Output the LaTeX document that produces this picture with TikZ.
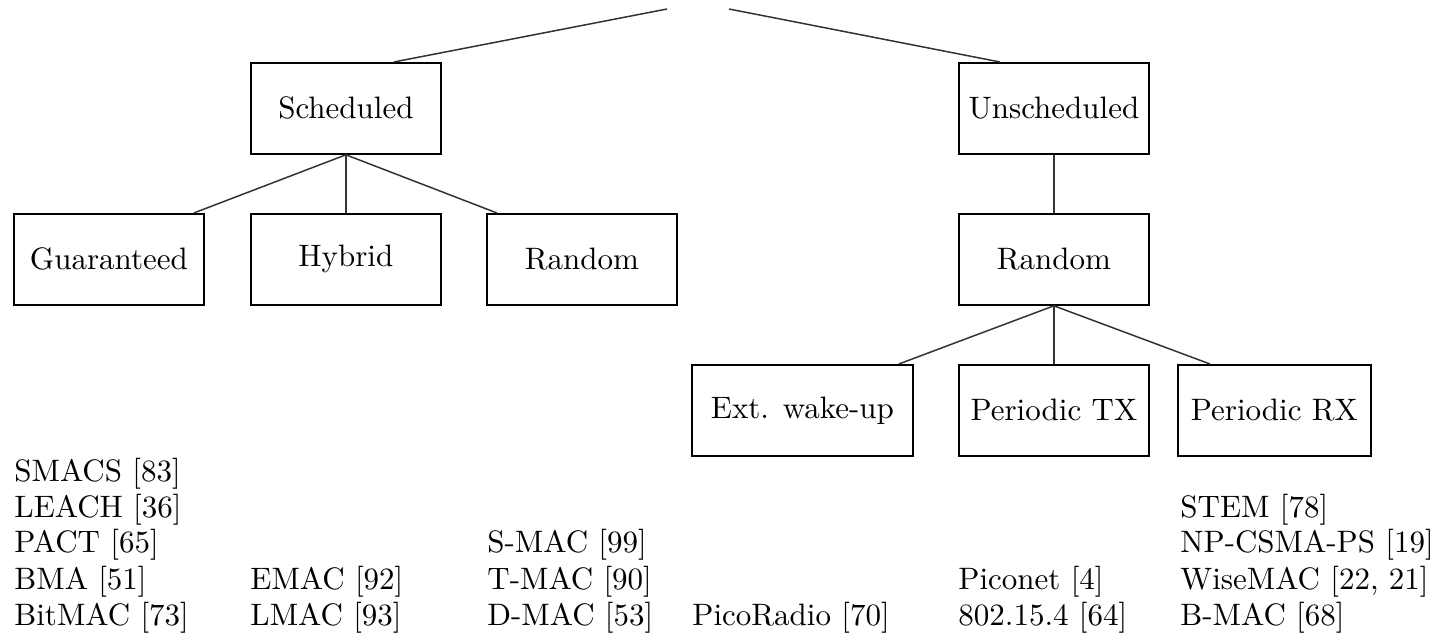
\documentclass[tikz,border=0pt]{standalone}
\newcommand{\mytxt}[1]{\scalebox{1.55}{#1}}
\begin{document}
\begin{tikzpicture}[x=0.5pt,y=-0.5pt,
  box/.style={draw=black,line width=0.9pt,minimum width=95pt,minimum height=45.5pt,inner sep=0pt,anchor=north west,font=\fontsize{10}{12}\selectfont},
  link/.style={draw=black!80,line width=0.75pt},
  item/.style={anchor=base west,inner sep=0pt,font=\fontsize{10}{12}\selectfont}]
\useasboundingbox (0,0) rectangle (1436,642);
% root (off frame) end points
\coordinate (rootL) at (667,9);
\coordinate (rootR) at (729,9);
% level 1
\node[box] (sched) at (250,62) {\mytxt{Scheduled}};
\node[box] (unsched) at (958,62) {\mytxt{Unscheduled}};
% level 2
\node[box] (guar) at (13,213) {\mytxt{Guaranteed}};
\node[box] (hyb) at (250,213) {\mytxt{Hybrid}};
\node[box] (rndL) at (486,213) {\mytxt{Random}};
\node[box] (rndR) at (958,213) {\mytxt{Random}};
% level 3
\node[box,minimum width=110.5pt] (ext) at (691,364) {\mytxt{Ext. wake-up}};
\node[box] (ptx) at (958,364) {\mytxt{Periodic TX}};
\node[box,minimum width=96.5pt] (prx) at (1177,364) {\mytxt{Periodic RX}};
% connectors
\draw[link] (rootL) -- ([xshift=-24pt]sched.north east);
\draw[link] (rootR) -- ([xshift=21pt]unsched.north west);
\draw[link] (sched.south) -- ([xshift=-5.5pt]guar.north east);
\draw[link] (sched.south) -- (hyb.north);
\draw[link] (sched.south) -- ([xshift=5.5pt]rndL.north west);
\draw[link] (unsched.south) -- (rndR.north);
\draw[link] (rndR.south) -- ([xshift=-7.5pt]ext.north east);
\draw[link] (rndR.south) -- (ptx.north);
\draw[link] (rndR.south) -- ([xshift=16.5pt]prx.north west);
% lists
\node[item] (a1) at (14,481) {\mytxt{SMACS [83]}};
\node[item] (a2) at (14,517) {\mytxt{LEACH [36]}};
\node[item] (a3) at (14,552) {\mytxt{PACT [65]}};
\node[item] (a4) at (14,589) {\mytxt{BMA [51]}};
\node[item] (a5) at (14,625) {\mytxt{BitMAC [73]}};
\node[item] (b1) at (250,589) {\mytxt{EMAC [92]}};
\node[item] (b2) at (250,625) {\mytxt{LMAC [93]}};
\node[item] (c1) at (487,552) {\mytxt{S-MAC [99]}};
\node[item] (c2) at (487,589) {\mytxt{T-MAC [90]}};
\node[item] (c3) at (487,625) {\mytxt{D-MAC [53]}};
\node[item] (d1) at (692,625) {\mytxt{PicoRadio [70]}};
\node[item] (e1) at (958,589) {\mytxt{Piconet [4]}};
\node[item] (e2) at (958,625) {\mytxt{802.15.4 [64]}};
\node[item] (f1) at (1180,517) {\mytxt{STEM [78]}};
\node[item] (f2) at (1180,552) {\mytxt{NP-CSMA-PS [19]}};
\node[item] (f3) at (1180,589) {\mytxt{WiseMAC [22, 21]}};
\node[item] (f4) at (1180,625) {\mytxt{B-MAC [68]}};
\end{tikzpicture}
\end{document}
